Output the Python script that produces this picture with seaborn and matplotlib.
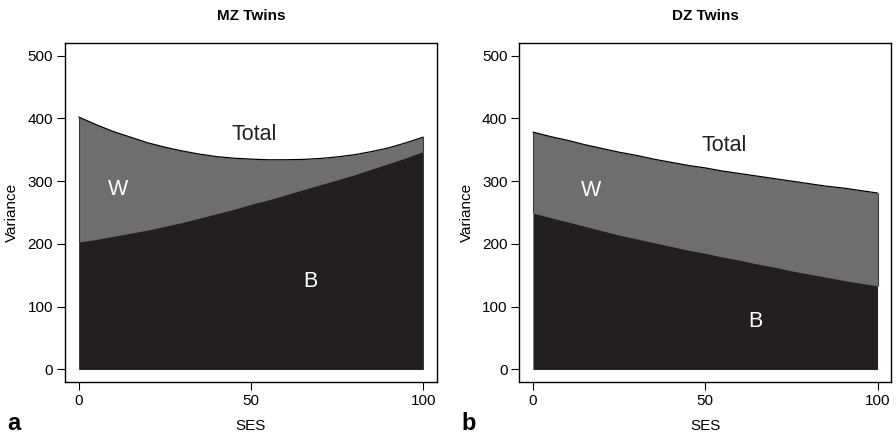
import matplotlib
matplotlib.use("Agg")
import matplotlib.pyplot as plt
import seaborn as sns
import pandas as pd

ses = [0, 5, 10, 15, 20, 25, 30, 35, 40, 45, 50, 55, 60, 65, 70, 75, 80, 85, 90, 95, 100]
mz_total = [402, 390, 379, 370, 361, 354, 348, 343, 339, 336.5, 335, 334, 334, 334.5, 336, 338.5, 342, 347, 353, 361, 370]
mz_between = [203, 207, 212, 217, 222, 228, 234, 241, 248, 255, 263, 270, 278, 286, 294, 302, 310, 319, 328, 337, 347]
dz_total = [378, 371, 365, 358, 352, 346, 341, 335, 330, 325, 321, 316, 312, 308, 304, 300, 296, 292, 289, 285, 281]
dz_between = [249, 242, 235, 228, 221, 214, 208, 202, 196, 190, 185, 179, 174, 168, 163, 157, 152, 147, 142, 137.5, 133]

panels = ["MZ Twins", "DZ Twins"]
panel_letters = ["a", "b"]
x_ticks = [0, 50, 100]
y_ticks = [0, 100, 200, 300, 400, 500]

gray = "#6d6e70"
dark = "#231f20"

sns.set_theme(style="ticks")
plt.rcParams["font.family"] = ["Liberation Sans", "DejaVu Sans"]
plt.rcParams["text.color"] = "black"
plt.rcParams["axes.labelcolor"] = "black"
plt.rcParams["xtick.color"] = "black"
plt.rcParams["ytick.color"] = "black"

fig = plt.figure(figsize=(8.96, 4.37), dpi=100)
W, H = 896, 437
lefts = [65, 519.3]
axw = 372
top, bottom = 43, 382

label_pos = [
    {"Total": (50.8, 374), "W": (11.3, 286), "B": (67.3, 140)},
    {"Total": (55.6, 357), "W": (16.7, 285), "B": (64.5, 77)},
]

datasets = [(mz_total, mz_between), (dz_total, dz_between)]
for i, (tot, btw) in enumerate(datasets):
    ax = fig.add_axes([lefts[i] / W, 1 - bottom / H, axw / W, (bottom - top) / H])
    df = pd.DataFrame({"SES": ses, "Total": tot, "B": btw})
    ax.fill_between(df["SES"], 0, df["Total"], color=gray, lw=0)
    ax.fill_between(df["SES"], 0, df["B"], color=dark, lw=0)
    sns.lineplot(data=df, x="SES", y="Total", ax=ax, color="black", lw=0.9)
    ax.vlines([ses[0], ses[-1]], [btw[0], btw[-1]], [tot[0], tot[-1]], color="#3a3a3a", lw=0.8)
    ax.set_xlim(-4, 104)
    ax.set_ylim(-20, 520)
    ax.set_xticks(x_ticks)
    ax.set_yticks(y_ticks)
    ax.set_xticklabels([str(t) for t in x_ticks], fontsize=11)
    ax.set_yticklabels([str(t) for t in y_ticks], fontsize=11)
    ax.tick_params(axis="both", direction="out", length=5.5, width=0.8, color="black",
                   labelcolor="black", pad=3)
    for sp in ax.spines.values():
        sp.set_visible(True)
        sp.set_color("black")
        sp.set_linewidth(1.0)
    ax.set_xlabel("SES", fontsize=11, labelpad=8, color="black")
    ax.set_ylabel("Variance", fontsize=11, labelpad=6, color="black")
    ax.set_facecolor("white")
    lp = label_pos[i]
    ax.text(*lp["Total"], "Total", fontsize=15.5, color="#231f20", ha="center", va="center")
    ax.text(*lp["W"], "W", fontsize=15.5, color="white", ha="center", va="center")
    ax.text(*lp["B"], "B", fontsize=15.5, color="white", ha="center", va="center")
    cx = (lefts[i] + axw / 2) / W
    fig.text(cx, 1 - 16 / H, panels[i], fontsize=11, fontweight="bold", ha="center", va="center")
    fig.text((lefts[i] - 51) / W, 1 - 423 / H, panel_letters[i], fontsize=17, fontweight="bold",
             ha="center", va="center")

fig.savefig("out.png", dpi=100, facecolor="white")
